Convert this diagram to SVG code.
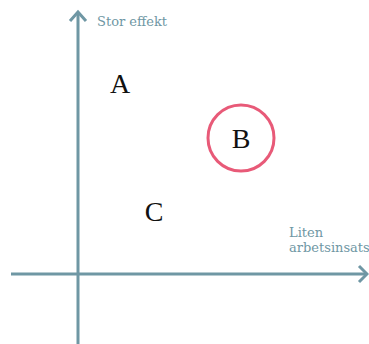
<svg xmlns="http://www.w3.org/2000/svg" width="369" height="344" viewBox="0 0 369 344">
<style>
.ax{stroke:#6f97a4;stroke-width:3;fill:none;stroke-linecap:butt}
.hd{stroke:#6f97a4;stroke-width:3;fill:none;stroke-linejoin:miter}
.lbl{font-family:"DejaVu Serif","Liberation Serif",serif;font-size:13px;fill:#6f97a4}
.big{font-family:"Liberation Serif","DejaVu Serif",serif;font-size:28px;fill:#111}
</style>
<rect width="369" height="344" fill="#fff"/>
<g id="connectors">
<line class="ax" x1="78" y1="344" x2="78" y2="13"/>
<polyline class="hd" points="70,21 78,12 86,21"/>
<line class="ax" x1="11" y1="274" x2="366" y2="274"/>
<polyline class="hd" points="359,266 367,274 359,282"/>
</g>
<g id="y-label"><text class="lbl" x="97" y="26">Stor effekt</text></g>
<g id="x-label"><text class="lbl" x="289" y="237">Liten</text><text class="lbl" x="289" y="252">arbetsinsats</text></g>
<g id="A"><text class="big" x="120" y="93" text-anchor="middle">A</text></g>
<g id="B"><circle cx="241" cy="138" r="33" fill="none" stroke="#e85a78" stroke-width="3"/><text class="big" x="241" y="148" text-anchor="middle">B</text></g>
<g id="C"><text class="big" x="154" y="221" text-anchor="middle">C</text></g>
</svg>
